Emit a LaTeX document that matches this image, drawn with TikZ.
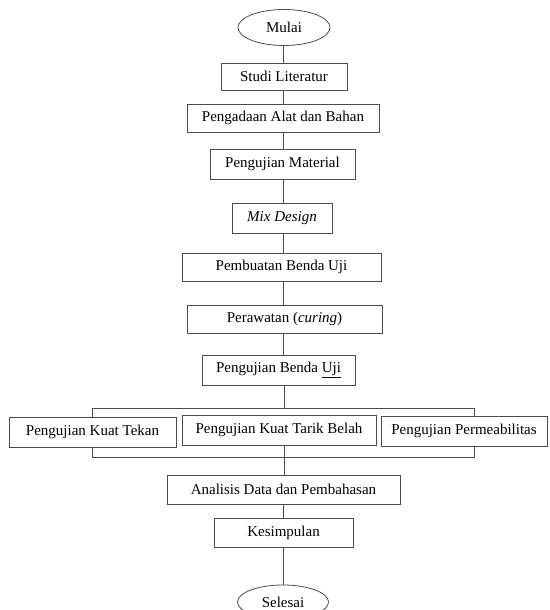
\documentclass[tikz,border=0pt]{standalone}
\usepackage{fontspec}
\setmainfont{Liberation Serif}
\usetikzlibrary{shapes.geometric}
\begin{document}
\begin{tikzpicture}[x=1pt,y=-1pt,
  every node/.style={font=\fontsize{15}{18}\selectfont, text=black, inner sep=0pt},
  boxnode/.style={draw=black!70, line width=0.8pt, rectangle},
  ovalnode/.style={draw=black!70, line width=0.8pt, ellipse},
  link/.style={draw=black!70, line width=0.8pt}]
\useasboundingbox (0,0) rectangle (549,610);
\node[ovalnode, minimum width=92pt, minimum height=36pt] (mulai) at (284,27.5) {Mulai};
\node[boxnode, minimum width=126pt, minimum height=27pt] (studi) at (284,76.5) {Studi Literatur};
\node[boxnode, minimum width=192pt, minimum height=28pt] (pengadaan) at (283,118) {Pengadaan Alat dan Bahan};
\node[boxnode, minimum width=145pt, minimum height=30pt] (material) at (282.5,164) {Pengujian Material};
\node[boxnode, minimum width=100pt, minimum height=30pt] (mix) at (282,218) {\itshape Mix Design};
\node[boxnode, minimum width=199pt, minimum height=28pt] (pembuatan) at (281.5,267) {Pembuatan Benda Uji};
\node[boxnode, minimum width=195pt, minimum height=28pt] (perawatan) at (284.5,319) {Perawatan (\textit{curing})};
\node[boxnode, minimum width=153pt, minimum height=30pt] (benda) at (278.5,370) {Pengujian Benda \underline{Uji}};
\node[boxnode, minimum width=167pt, minimum height=30pt] (kt) at (92.5,432) {Pengujian Kuat Tekan};
\node[boxnode, minimum width=194pt, minimum height=30pt] (ktb) at (279,430) {Pengujian Kuat Tarik Belah};
\node[boxnode, minimum width=166pt, minimum height=30pt] (perm) at (464,431) {Pengujian Permeabilitas};
\node[boxnode, minimum width=233pt, minimum height=29pt] (analisis) at (283.5,489.5) {Analisis Data dan Pembahasan};
\node[boxnode, minimum width=139pt, minimum height=29pt] (kesimpulan) at (283.5,532.5) {Kesimpulan};
\node[ovalnode, minimum width=91pt, minimum height=34pt] (selesai) at (283,602) {Selesai};
\coordinate (spine) at (283.5,0);
\coordinate (top) at (284,408);
\coordinate (tl) at (92,408);
\coordinate (tr) at (474,408);
\coordinate (bot) at (284,457);
\coordinate (bl) at (92,457);
\coordinate (br) at (474,457);
\draw[link] (mulai.south -| spine) -- (studi.north -| spine);
\draw[link] (studi.south -| spine) -- (pengadaan.north -| spine);
\draw[link] (pengadaan.south -| spine) -- (material.north -| spine);
\draw[link] (material.south -| spine) -- (mix.north -| spine);
\draw[link] (mix.south -| spine) -- (pembuatan.north -| spine);
\draw[link] (pembuatan.south -| spine) -- (perawatan.north -| spine);
\draw[link] (perawatan.south -| spine) -- (benda.north -| spine);
\draw[link] (benda.south -| top) -- (top);
\draw[link] (kt.north -| tl) -- (tl) -- (tr) -- (perm.north -| tr);
\draw[link] (kt.south -| bl) -- (bl) -- (br) -- (perm.south -| br);
\draw[link] (ktb.south -| bot) -- (analisis.north -| bot);
\draw[link] (analisis.south -| spine) -- (kesimpulan.north -| spine);
\draw[link] (kesimpulan.south -| spine) -- (selesai.north -| spine);
\end{tikzpicture}
\end{document}
